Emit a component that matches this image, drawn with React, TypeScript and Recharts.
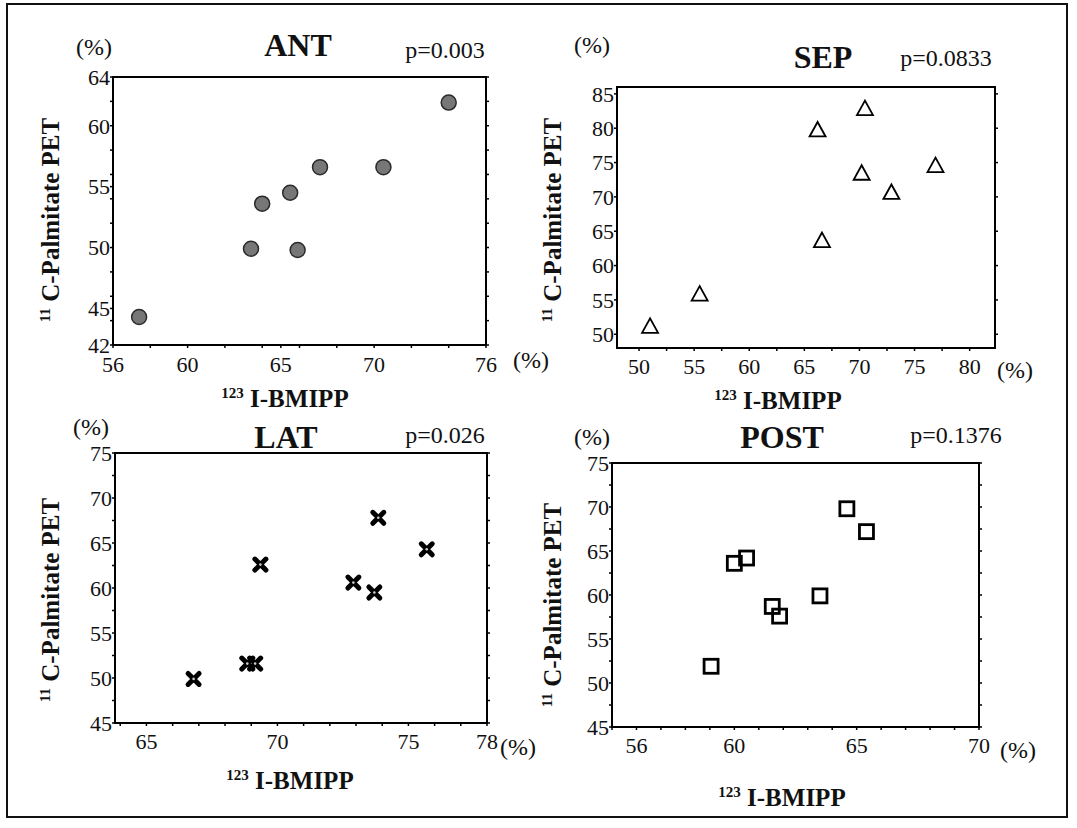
import React from 'react';
import { ScatterChart, Scatter, XAxis, YAxis, ReferenceArea } from 'recharts';

const FONT = '"Liberation Serif", "Times New Roman", serif';

// ANT
const antX = [57.4, 63.4, 64.0, 65.5, 65.9, 67.1, 70.5, 74.0];
const antY = [44.3, 49.9, 53.6, 54.5, 49.8, 56.6, 56.6, 61.9];
const antXTicks = [56, 60, 65, 70, 76];
const antYTicks = [42, 45, 50, 55, 60, 64];
const antXMinor = [56, 58, 60, 62, 64, 66, 68, 70, 72, 74, 76];
const antYMinor = [42, 44, 46, 48, 50, 52, 54, 56, 58, 60, 62, 64];

// SEP
const sepX = [51.0, 55.5, 66.2, 70.5, 70.2, 72.9, 76.9, 66.6];
const sepY = [51.0, 55.7, 79.6, 82.7, 73.3, 70.5, 74.4, 63.5];
const sepXTicks = [50, 55, 60, 65, 70, 75, 80];
const sepYTicks = [50, 55, 60, 65, 70, 75, 80, 85];
const sepXMinor = [50, 52.5, 55, 57.5, 60, 62.5, 65, 67.5, 70, 72.5, 75, 77.5, 80];
const sepYMinor = [50, 55, 60, 65, 70, 75, 80, 85];

// LAT
const latX = [66.8, 68.85, 69.15, 69.35, 72.9, 73.7, 73.85, 75.7];
const latY = [49.9, 51.6, 51.6, 62.6, 60.6, 59.5, 67.8, 64.3];
const latXTicks = [65, 70, 75, 78];
const latYTicks = [45, 50, 55, 60, 65, 70, 75];
const latXMinor = [64, 65, 66, 67, 68, 69, 70, 71, 72, 73, 74, 75, 76, 77, 78];
const latYMinor = [45, 47.5, 50, 52.5, 55, 57.5, 60, 62.5, 65, 67.5, 70, 72.5, 75];

// POST
const postX = [59.05, 60.0, 60.5, 61.55, 61.85, 63.5, 64.6, 65.4];
const postY = [51.9, 63.6, 64.2, 58.7, 57.6, 59.9, 69.8, 67.2];
const postXTicks = [56, 60, 65, 70];
const postYTicks = [45, 50, 55, 60, 65, 70, 75];
const postXMinor = [55, 56, 57, 58, 59, 60, 61, 62, 63, 64, 65, 66, 67, 68, 69, 70];
const postYMinor = [45, 47.5, 50, 52.5, 55, 57.5, 60, 62.5, 65, 67.5, 70, 72.5, 75];

const DotShape = (p: any) => (
  <circle cx={p.cx} cy={p.cy} r={7.5} fill="#777" stroke="#2a2a2a" strokeWidth={1.5} />
);
const TriShape = (p: any) => (
  <polygon
    points={`${p.cx},${p.cy - 9} ${p.cx - 8},${p.cy + 5.5} ${p.cx + 8},${p.cy + 5.5}`}
    fill="none" stroke="#000" strokeWidth={1.8}
  />
);
const CrossShape = (p: any) => (
  <g>
    <path
      d={`M${p.cx - 5.5},${p.cy - 5.5}L${p.cx + 5.5},${p.cy + 5.5}M${p.cx + 5.5},${p.cy - 5.5}L${p.cx - 5.5},${p.cy + 5.5}`}
      stroke="#000" strokeWidth={5} strokeLinecap="round"
    />
    <circle cx={p.cx} cy={p.cy} r={1.3} fill="#ccc" />
  </g>
);
const SquareShape = (p: any) => (
  <rect x={p.cx - 7} y={p.cy - 7} width={14} height={14} fill="none" stroke="#000" strokeWidth={2.8} />
);

const axisLine = { stroke: '#000', strokeWidth: 2 };
const tickLine = { stroke: '#000', strokeWidth: 1.5 };
const tickStyle = { fontFamily: FONT, fontSize: 22, fill: '#111' };

interface PanelProps {
  xs: number[];
  ys: number[];
  xDomain: [number, number];
  yDomain: [number, number];
  xTicks: number[];
  yTicks: number[];
  xMinor: number[];
  yMinor: number[];
  box: { left: number; top: number; w: number; h: number };
  gap: number;
  shape: any;
}

function Panel({ xs, ys, xDomain, yDomain, xTicks, yTicks, xMinor, yMinor, box, gap, shape }: PanelProps) {
  const data = xs.map((x, i) => ({ x, y: ys[i] }));
  const xAll = Array.from(new Set([...xMinor, ...xTicks])).sort((a, b) => a - b);
  const yAll = Array.from(new Set([...yMinor, ...yTicks])).sort((a, b) => a - b);
  // plot area = box: left offset 50 (y axis), top offset 20 margin + 2 top axis
  return (
    <div style={{ position: 'absolute', left: box.left - 50, top: box.top - 22 }}>
      <ScatterChart
        width={box.w + 72}
        height={box.h + 62}
        margin={{ top: 20, right: 20, bottom: 0, left: 0 }}
      >
        <XAxis
          xAxisId="b" dataKey="x" type="number" domain={xDomain} allowDataOverflow
          ticks={xAll} interval={0} height={40}
          tickFormatter={(v: number) => (xTicks.includes(v) ? String(v) : '')}
          axisLine={axisLine} tickLine={tickLine} tickSize={3} tickMargin={gap} tick={tickStyle}
        />
        <XAxis
          xAxisId="t" orientation="top" type="number" domain={xDomain} allowDataOverflow
          ticks={xMinor} interval={0} height={2} tickFormatter={() => ''}
          axisLine={axisLine} tickLine={tickLine} tickSize={3}
        />
        <YAxis
          yAxisId="l" dataKey="y" type="number" domain={yDomain} allowDataOverflow
          ticks={yAll} interval={0} width={50}
          tickFormatter={(v: number) => (yTicks.includes(v) ? String(v) : '')}
          axisLine={axisLine} tickLine={tickLine} tickSize={3} tickMargin={0} tick={tickStyle}
        />
        <YAxis
          yAxisId="r" orientation="right" type="number" domain={yDomain} allowDataOverflow
          ticks={yMinor} interval={0} width={2} tickFormatter={() => ''}
          axisLine={axisLine} tickLine={tickLine} tickSize={3}
        />
        <ReferenceArea
          xAxisId="b" yAxisId="l"
          x1={xDomain[0]} x2={xDomain[1]} y1={yDomain[0]} y2={yDomain[1]}
          fill="none" fillOpacity={0} stroke="#000" strokeWidth={2} strokeOpacity={1} ifOverflow="visible"
        />
        <Scatter xAxisId="b" yAxisId="l" data={data} shape={shape} isAnimationActive={false} />
      </ScatterChart>
    </div>
  );
}

function Txt({ x, y, size = 24, bold = false, rotate = false, children }: any) {
  return (
    <div
      style={{
        position: 'absolute', left: x, top: y,
        transform: `translate(-50%, -50%)${rotate ? ' rotate(-90deg)' : ''}`,
        fontFamily: FONT, fontSize: size, fontWeight: bold ? 700 : 400,
        whiteSpace: 'nowrap', lineHeight: 1, color: '#111',
      }}
    >
      {children}
    </div>
  );
}

const XLabel = ({ x, y }: any) => (
  <Txt x={x} y={y} size={25} bold>
    <span style={{ fontSize: 15, position: 'relative', top: -9 }}>123</span> I-BMIPP
  </Txt>
);
const YLabel = ({ x, y }: any) => (
  <Txt x={x} y={y} size={25} bold rotate>
    <span style={{ fontSize: 15, position: 'relative', top: -9 }}>11</span> C-Palmitate PET
  </Txt>
);

export default function App() {
  return (
    <div style={{ position: 'absolute', left: 0, top: 0, width: 1077, height: 828, background: '#fff', overflow: 'hidden' }}>
      <div style={{ position: 'absolute', left: 6, top: 3, width: 1058, height: 811, border: '2px solid #111' }} />

      <Panel xs={antX} ys={antY} xDomain={[56, 76]} yDomain={[42, 64]} xTicks={antXTicks} yTicks={antYTicks}
        xMinor={antXMinor} yMinor={antYMinor} box={{ left: 113, top: 77, w: 373, h: 268 }} gap={8} shape={DotShape} />
      <Panel xs={sepX} ys={sepY} xDomain={[48, 82.3]} yDomain={[48, 86]} xTicks={sepXTicks} yTicks={sepYTicks}
        xMinor={sepXMinor} yMinor={sepYMinor} box={{ left: 617, top: 87, w: 378, h: 261 }} gap={7} shape={TriShape} />
      <Panel xs={latX} ys={latY} xDomain={[63.8, 78]} yDomain={[45, 75]} xTicks={latXTicks} yTicks={latYTicks}
        xMinor={latXMinor} yMinor={latYMinor} box={{ left: 115, top: 453, w: 372, h: 270 }} gap={7} shape={CrossShape} />
      <Panel xs={postX} ys={postY} xDomain={[55, 70]} yDomain={[45, 75]} xTicks={postXTicks} yTicks={postYTicks}
        xMinor={postXMinor} yMinor={postYMinor} box={{ left: 612, top: 463, w: 367, h: 264 }} gap={7} shape={SquareShape} />

      {/* ANT */}
      <Txt x={94} y={47}>(%)</Txt>
      <Txt x={298} y={45} size={32} bold>ANT</Txt>
      <Txt x={445} y={50}>p=0.003</Txt>
      <Txt x={531} y={360}>(%)</Txt>
      <XLabel x={285} y={398} />
      <YLabel x={50} y={220} />

      {/* SEP */}
      <Txt x={592} y={45}>(%)</Txt>
      <Txt x={823} y={57} size={32} bold>SEP</Txt>
      <Txt x={946} y={58}>p=0.0833</Txt>
      <Txt x={1015} y={370}>(%)</Txt>
      <XLabel x={778} y={400} />
      <YLabel x={552} y={220} />

      {/* LAT */}
      <Txt x={91} y={427}>(%)</Txt>
      <Txt x={286} y={437} size={32} bold>LAT</Txt>
      <Txt x={445} y={435}>p=0.026</Txt>
      <Txt x={518} y={747}>(%)</Txt>
      <XLabel x={290} y={780} />
      <YLabel x={50} y={600} />

      {/* POST */}
      <Txt x={592} y={437}>(%)</Txt>
      <Txt x={782} y={437} size={32} bold>POST</Txt>
      <Txt x={956} y={435}>p=0.1376</Txt>
      <Txt x={1018} y={750}>(%)</Txt>
      <XLabel x={782} y={797} />
      <YLabel x={552} y={605} />
    </div>
  );
}
